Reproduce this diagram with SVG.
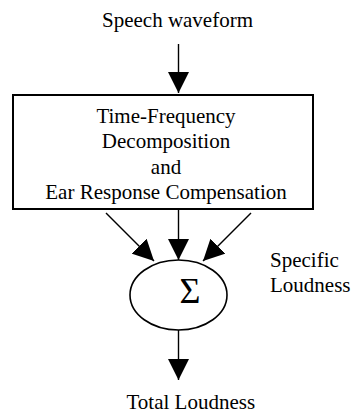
<svg xmlns="http://www.w3.org/2000/svg" width="352" height="414" viewBox="0 0 352 414">
<style>
text { font-family: "Liberation Serif", "Times New Roman", "DejaVu Serif", serif; font-size: 21px; fill: #000; }
.c { text-anchor: middle; }
.sig { font-size: 36px; }
.box { fill: #fff; stroke: #000; stroke-width: 2; }
.ell { fill: #fff; stroke: #000; stroke-width: 1.6; }
.conn line { stroke: #000; stroke-width: 1.4; marker-end: url(#ah); }
</style>
<defs>
<marker id="ah" markerUnits="userSpaceOnUse" markerWidth="21" markerHeight="21" viewBox="0 0 21 21" refX="21" refY="10.5" orient="auto">
<path d="M0,0 L21,10.5 L0,21 Z" fill="#000"/>
</marker>
</defs>
<rect width="352" height="414" fill="#fff"/>
<g id="input">
<text class="c" x="177.5" y="27">Speech waveform</text>
</g>
<g id="decomposition">
<rect class="box" x="13" y="95" width="300" height="114"/>
<text class="c" x="166" y="122.5">Time-Frequency</text>
<text class="c" x="166" y="148">Decomposition</text>
<text class="c" x="166" y="173.5">and</text>
<text class="c" x="166" y="199">Ear Response Compensation</text>
</g>
<g id="sum">
<ellipse class="ell" cx="178.5" cy="295" rx="48.5" ry="35"/>
<text class="c sig" x="190" y="303">Σ</text>
</g>
<g id="specific-loudness">
<text x="270" y="267">Specific</text>
<text x="270" y="292">Loudness</text>
</g>
<g id="output">
<text x="126.5" y="408.5">Total Loudness</text>
</g>
<g class="conn" id="connectors">
<line x1="178.5" y1="44" x2="178.5" y2="93"/>
<line x1="106" y1="213" x2="154" y2="261"/>
<line x1="178.5" y1="210" x2="178.5" y2="260"/>
<line x1="251" y1="213" x2="203" y2="261"/>
<line x1="178.5" y1="330" x2="178.5" y2="380"/>
</g>
</svg>
